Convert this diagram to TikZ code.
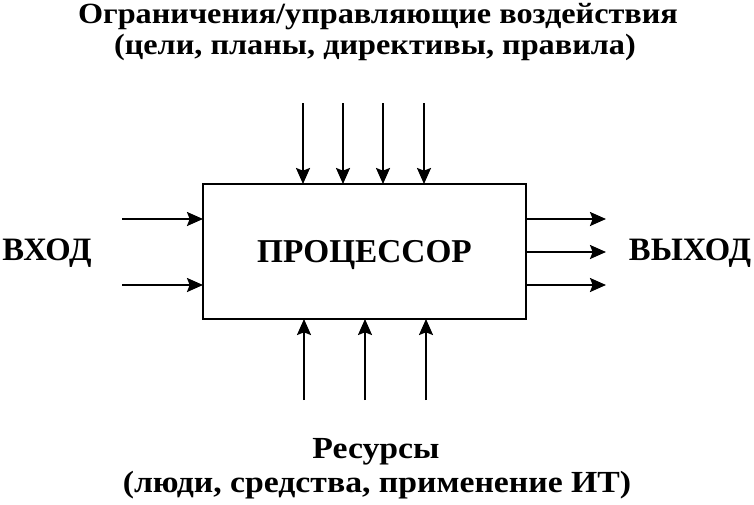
\documentclass[tikz,border=0pt]{standalone}
\usepackage{fontspec}
\setmainfont{Liberation Serif}
\newfontfamily\widetop[FakeStretch=1.1]{Liberation Serif}
\newfontfamily\widebot[FakeStretch=1.1]{Liberation Serif}
\usetikzlibrary{arrows.meta}
\begin{document}
\begin{tikzpicture}[x=0.75pt,y=-0.75pt,line cap=butt,line join=miter,
	arr/.style={line width=1.6pt,-{Stealth[length=12pt,width=10.5pt,inset=2pt]}},
	procbox/.style={draw,line width=1.6pt,inner sep=0pt,outer sep=0pt,minimum width=242.25pt,minimum height=101.25pt,font=\fontsize{25}{30}\selectfont\bfseries},
	toplbl/.style={inner sep=0pt,anchor=base,font=\widetop\fontsize{22}{27}\selectfont\bfseries},
	botlbl/.style={inner sep=0pt,anchor=base,font=\widebot\fontsize{23}{27}\selectfont\bfseries},
	side/.style={inner sep=0pt,anchor=base,font=\fontsize{24.5}{30}\selectfont\bfseries}]
	\useasboundingbox (0,0) rectangle (754,504);
	\node[procbox,text depth=0pt] (proc) at (364.5,251.5) {ПРОЦЕССОР};
	\node[toplbl] (ctl1) at (378,23) {Ограничения/управляющие воздействия};
	\node[toplbl] (ctl2) at (375,54) {(цели, планы, директивы, правила)};
	\node[botlbl] (res1) at (376,458) {Ресурсы};
	\node[botlbl] (res2) at (377,492) {(люди, средства, применение ИТ)};
	\node[side] (in) at (47,260) {ВХОД};
	\node[side] (out) at (690,260) {ВЫХОД};
	\foreach \x [count=\i] in {303,343,383,424} {
		\coordinate (t\i) at (\x,103);
		\draw[arr] (t\i) -- (t\i |- proc.north);
	}
	\foreach \x [count=\i] in {304,365,426} {
		\coordinate (b\i) at (\x,400);
		\draw[arr] (b\i) -- (b\i |- proc.south);
	}
	\foreach \y [count=\i] in {219,285} {
		\coordinate (l\i) at (122,\y);
		\draw[arr] (l\i) -- (l\i -| proc.west);
	}
	\foreach \y [count=\i] in {219,252,285} {
		\coordinate (r\i) at (606,\y);
		\draw[arr] (r\i -| proc.east) -- (r\i);
	}
\end{tikzpicture}
\end{document}
